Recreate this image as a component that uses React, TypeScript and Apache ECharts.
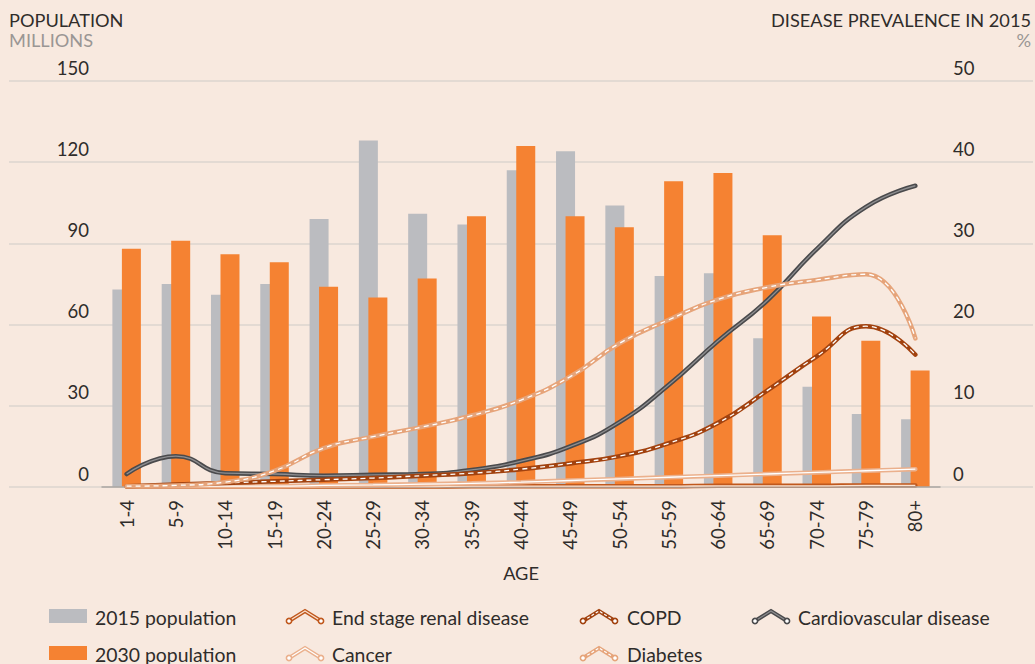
import { useEffect, useRef } from 'react';
import * as echarts from 'echarts';

const categories = ['1-4', '5-9', '10-14', '15-19', '20-24', '25-29', '30-34', '35-39', '40-44', '45-49', '50-54', '55-59', '60-64', '65-69', '70-74', '75-79', '80+'];
const pop2015 = [73, 75, 71, 75, 99, 128, 101, 97, 117, 124, 104, 78, 79, 55, 37, 27, 25];
const pop2030 = [88, 91, 86, 83, 74, 70, 77, 100, 126, 100, 96, 113, 116, 93, 63, 54, 43];
const renal = [0.05, 0.05, 0.05, 0.05, 0.05, 0.05, 0.05, 0.1, 0.1, 0.1, 0.1, 0.1, 0.15, 0.15, 0.15, 0.2, 0.2];
const cancer = [0.1, 0.1, 0.1, 0.1, 0.2, 0.25, 0.35, 0.45, 0.6, 0.8, 1.0, 1.2, 1.4, 1.6, 1.8, 2.0, 2.2];
const copd = [0.1, 0.3, 0.5, 0.7, 0.9, 1.1, 1.4, 1.7, 2.2, 2.9, 3.8, 5.4, 7.9, 11.9, 16.1, 19.8, 16.3];
const cardio = [1.6, 3.8, 1.7, 1.6, 1.4, 1.5, 1.6, 2.1, 3.2, 5.0, 8.0, 12.6, 18.0, 23.0, 29.3, 34.5, 37.1];
const diabetes = [0.1, 0.2, 0.6, 2.0, 4.8, 6.2, 7.4, 8.8, 10.7, 13.6, 17.7, 20.6, 23.1, 24.6, 25.5, 26.2, 18.3];

const BG = '#f8e9df';
const TEXT = '#2f2c2a';
const FONT = 'Lato';
const GREY_BAR = '#bbbcc0';
const ORANGE_BAR = '#f58232';

type Disease = { name: string; data: number[]; outer: string; inner: string; dashed: boolean };
const diseases: Disease[] = [
  { name: 'Cardiovascular disease', data: cardio, outer: '#4a4a4c', inner: '#8e8e90', dashed: false },
  { name: 'End stage renal disease', data: renal, outer: '#c0581d', inner: '#fbe2d0', dashed: false },
  { name: 'Cancer', data: cancer, outer: '#ebb08c', inner: '#ffffff', dashed: false },
  { name: 'COPD', data: copd, outer: '#a2420f', inner: '#ffffff', dashed: true },
  { name: 'Diabetes', data: diabetes, outer: '#e6a47a', inner: '#ffffff', dashed: true },
];

function lineIcon(x0: number, yBase: number, d: Disease) {
  const pts = [[x0 + 2, yBase], [x0 + 18, yBase - 10], [x0 + 34, yBase]];
  return [
    { type: 'polyline', shape: { points: pts }, style: { stroke: d.outer, lineWidth: 4, fill: 'none' }, z: 10 },
    { type: 'polyline', shape: { points: pts }, style: { stroke: d.inner, lineWidth: 1.2, fill: 'none', lineDash: d.dashed ? [3, 2] : null }, z: 11 },
    { type: 'circle', shape: { cx: pts[0][0], cy: pts[0][1], r: 2.6 }, style: { fill: '#fff', stroke: d.outer, lineWidth: 1.6 }, z: 12 },
    { type: 'circle', shape: { cx: pts[2][0], cy: pts[2][1], r: 2.6 }, style: { fill: '#fff', stroke: d.outer, lineWidth: 1.6 }, z: 12 },
  ];
}

function txt(text: string, x: number, y: number, align: string, fill = TEXT, size = 18.2) {
  return { type: 'text', x, y, style: { text, fill, fontSize: size, fontFamily: FONT, textAlign: align, textVerticalAlign: 'middle' }, z: 10 };
}

const LEG = 19.4;

export default function App() {
  const ref = useRef<HTMLDivElement>(null);
  useEffect(() => {
    const chart = echarts.init(ref.current!, null, { renderer: 'svg' });
    const lineSeries: any[] = [];
    diseases.forEach((d, i) => {
      lineSeries.push({
        name: d.name, type: 'line', xAxisIndex: 0, yAxisIndex: 1, data: d.data, smooth: true, symbol: 'none', silent: true,
        lineStyle: { color: d.outer, width: 4.5, cap: 'round' }, z: 3 + i * 2,
      });
      lineSeries.push({
        name: d.name + ' inner', type: 'line', xAxisIndex: 0, yAxisIndex: 1, data: d.data, smooth: true, symbol: 'none', silent: true,
        lineStyle: { color: d.inner, width: 1.3, type: d.dashed ? [5, 4] : 'solid' }, z: 4 + i * 2,
      });
    });
    const byName = (n: string) => diseases.find((d) => d.name === n)!;
    const graphics: any[] = [
      txt('POPULATION', 9, 20, 'left'),
      txt('MILLIONS', 9, 40, 'left', '#9a9694'),
      txt('DISEASE PREVALENCE IN 2015', 1031, 20, 'right'),
      txt('%', 1031, 40, 'right', '#9a9694'),
      txt('AGE', 521, 573, 'center'),
      { type: 'rect', shape: { x: 49, y: 609, width: 38, height: 14 }, style: { fill: GREY_BAR }, z: 10 },
      txt('2015 population', 95, 617, 'left', TEXT, LEG),
      { type: 'rect', shape: { x: 49, y: 646, width: 38, height: 14 }, style: { fill: ORANGE_BAR }, z: 10 },
      txt('2030 population', 95, 654, 'left', TEXT, LEG),
      ...lineIcon(287, 621, byName('End stage renal disease')),
      txt('End stage renal disease', 332, 617, 'left', TEXT, LEG),
      ...lineIcon(287, 658, byName('Cancer')),
      txt('Cancer', 332, 654, 'left', TEXT, LEG),
      ...lineIcon(581, 621, byName('COPD')),
      txt('COPD', 627, 617, 'left', TEXT, LEG),
      ...lineIcon(581, 658, byName('Diabetes')),
      txt('Diabetes', 627, 654, 'left', TEXT, LEG),
      ...lineIcon(753, 621, byName('Cardiovascular disease')),
      txt('Cardiovascular disease', 798, 617, 'left', TEXT, LEG),
    ];
    chart.setOption({
      animation: false,
      backgroundColor: BG,
      textStyle: { fontFamily: FONT },
      grid: [
        { left: 102, right: 95, top: 81, bottom: 177 },
        { left: 9, right: 2, top: 81, bottom: 177 },
      ],
      xAxis: [
        {
          type: 'category', gridIndex: 0, data: categories, boundaryGap: true,
          axisTick: { show: false },
          axisLine: { show: true, lineStyle: { color: '#aca7a3', width: 1.5 } },
          axisLabel: { rotate: 90, fontSize: 18.5, color: TEXT, fontFamily: FONT, margin: 13, interval: 0 },
          z: 6,
        },
        { type: 'value', gridIndex: 1, show: false, min: 0, max: 1 },
      ],
      yAxis: [
        {
          type: 'value', gridIndex: 0, min: 0, max: 150, interval: 30,
          splitLine: { show: false }, axisLine: { show: false }, axisTick: { show: false },
          axisLabel: { fontSize: 18.5, color: TEXT, fontFamily: FONT, margin: 13, verticalAlign: 'bottom', padding: [0, 0, 4, 0] },
        },
        {
          type: 'value', gridIndex: 0, position: 'right', min: 0, max: 50, interval: 10,
          splitLine: { show: false }, axisLine: { show: false }, axisTick: { show: false },
          axisLabel: { fontSize: 18.5, color: TEXT, fontFamily: FONT, margin: 13, verticalAlign: 'bottom', padding: [0, 0, 4, 0] },
        },
        {
          type: 'value', gridIndex: 1, min: 0, max: 150, interval: 30,
          axisLine: { show: false }, axisTick: { show: false }, axisLabel: { show: false },
          splitLine: { show: true, lineStyle: { color: '#dcd5cf', width: 1.5 } },
        },
      ],
      series: [
        { name: '2015 population', type: 'bar', xAxisIndex: 0, yAxisIndex: 0, data: pop2015, barWidth: 19, barGap: '-50%', itemStyle: { color: GREY_BAR }, z: 2, silent: true },
        { name: '2030 population', type: 'bar', xAxisIndex: 0, yAxisIndex: 0, data: pop2030, barWidth: 19, barGap: '-50%', itemStyle: { color: ORANGE_BAR }, z: 2, silent: true },
        ...lineSeries,
      ],
      graphic: graphics,
    });
    return () => chart.dispose();
  }, []);
  return <div ref={ref} style={{ position: 'fixed', left: 0, top: 0, width: 1035, height: 664 }} />;
}
